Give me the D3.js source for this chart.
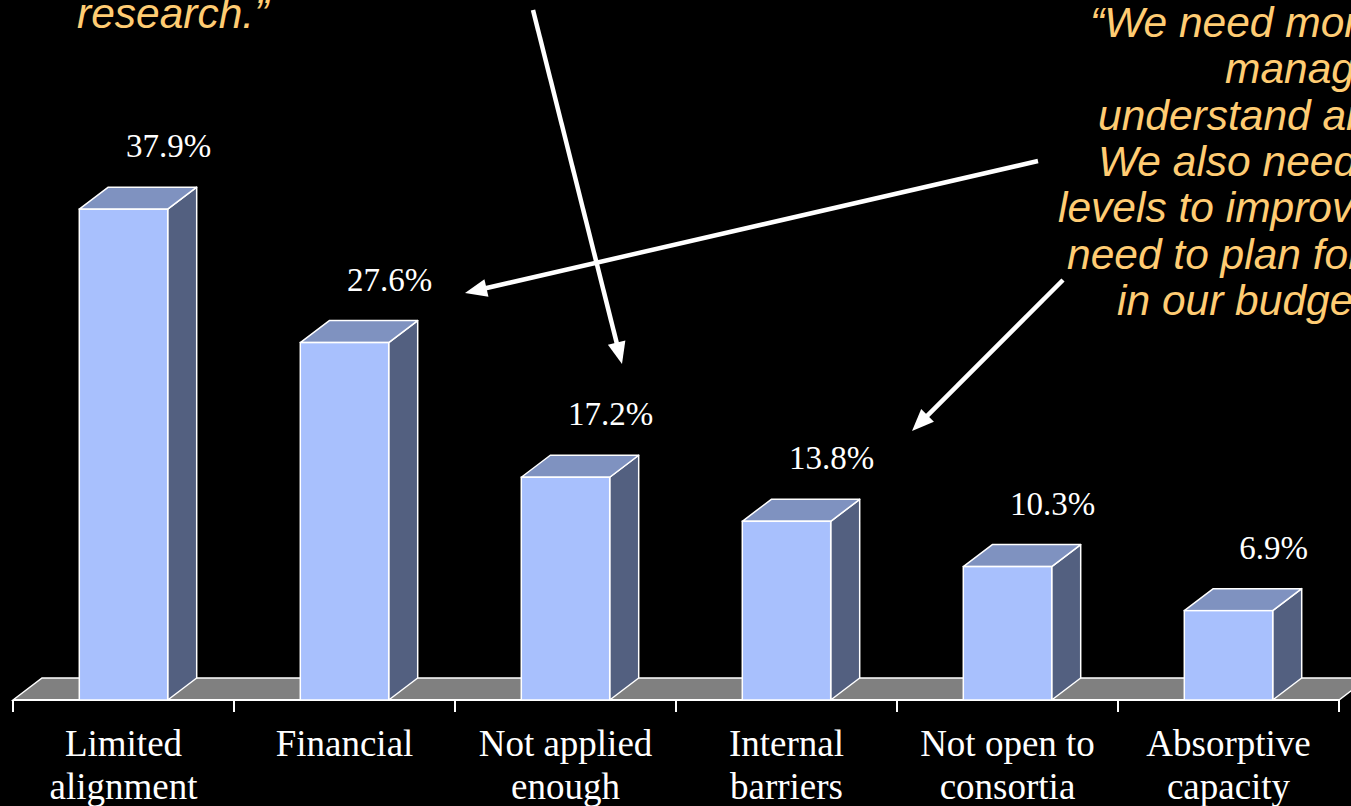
<!DOCTYPE html>
<meta charset="utf-8">
<style>
    body { margin: 0; background: #000; }
    svg { display: block; background: #000; }
    .value { font-family: "Liberation Serif", "Times New Roman", serif; font-size: 33px; fill: #fff; text-anchor: middle; }
    .category { font-family: "Liberation Serif", "Times New Roman", serif; font-size: 37px; fill: #fff; text-anchor: middle; }
    .quote { font-family: "Liberation Sans", Arial, sans-serif; font-style: italic; font-size: 42.5px; fill: #ffcc73; }
</style>
<svg width="1351" height="806"></svg>
<script src="https://d3js.org/d3.v7.min.js"></script>
<script>
    // survey results
    var categories = ["Limited alignment", "Financial", "Not applied enough", "Internal barriers", "Not open to consortia", "Absorptive capacity"];
    var categoryLines = [["Limited", "alignment"], ["Financial"], ["Not applied", "enough"], ["Internal", "barriers"], ["Not open to", "consortia"], ["Absorptive", "capacity"]];
    var shares = [37.9, 27.6, 17.2, 13.8, 10.3, 6.9];

    // quotes around the chart (they run off the slide edge)
    var quoteRight = ["\u201cWe need more", "management", "understand and", "We also need", "levels to improve", "need to plan for", "in our budget."];
    var quoteLeft = ["research.\u201d"];

    var svg = d3.select("svg"),
        width = +svg.attr("width"),
        height = +svg.attr("height");

    var floorY = 700,
        depthX = 29,
        depthY = -22;

    var x = d3.scaleBand()
        .domain(categories)
        .range([13, 1339]);

    var y = d3.scaleLinear()
        .domain([0, 40])
        .range([floorY, 182]);

    var barW = x.bandwidth() * 0.4;
    function barLeft(c) { return x(c) + (x.bandwidth() - barW) / 2; }

    // floor
    var fx0 = x.range()[0], fx1 = x.range()[1];
    svg.append("path")
        .attr("d", "M" + fx0 + "," + floorY + "L" + (fx0 + depthX) + "," + (floorY + depthY) +
            "L" + (fx1 + depthX) + "," + (floorY + depthY) + "L" + fx1 + "," + floorY + "Z")
        .attr("fill", "#808080")
        .attr("stroke", "#fff")
        .attr("stroke-width", 1.5);

    // axis line + ticks at band edges
    var tickXs = categories.map(function (c) { return x(c); }).concat([fx1]);
    svg.append("line")
        .attr("x1", fx0).attr("x2", fx1)
        .attr("y1", floorY).attr("y2", floorY)
        .attr("stroke", "#fff").attr("stroke-width", 2);
    svg.selectAll(".tick")
        .data(tickXs).enter()
        .append("line")
        .attr("x1", function (d) { return d; })
        .attr("x2", function (d) { return d; })
        .attr("y1", floorY)
        .attr("y2", floorY + 12)
        .attr("stroke", "#fff").attr("stroke-width", 2);

    // 3d bars
    var bars = svg.selectAll(".bar")
        .data(categories)
        .enter().append("g")
        .attr("class", "bar");

    bars.append("path") // side
        .attr("d", function (c, i) {
            var x1 = barLeft(c) + barW, yt = y(shares[i]);
            return "M" + x1 + "," + yt + "L" + (x1 + depthX) + "," + (yt + depthY) +
                "L" + (x1 + depthX) + "," + (floorY + depthY) + "L" + x1 + "," + floorY + "Z";
        })
        .attr("fill", "#536080")
        .attr("stroke", "#fff").attr("stroke-width", 1.5).attr("stroke-linejoin", "round");

    bars.append("path") // top
        .attr("d", function (c, i) {
            var x0 = barLeft(c), x1 = x0 + barW, yt = y(shares[i]);
            return "M" + x0 + "," + yt + "L" + (x0 + depthX) + "," + (yt + depthY) +
                "L" + (x1 + depthX) + "," + (yt + depthY) + "L" + x1 + "," + yt + "Z";
        })
        .attr("fill", "#7f92c0")
        .attr("stroke", "#fff").attr("stroke-width", 1.5).attr("stroke-linejoin", "round");

    bars.append("rect") // front
        .attr("x", function (c) { return barLeft(c); })
        .attr("y", function (c, i) { return y(shares[i]); })
        .attr("width", barW)
        .attr("height", function (c, i) { return floorY - y(shares[i]); })
        .attr("fill", "#a8c0fd")
        .attr("stroke", "#fff").attr("stroke-width", 1.5);

    // value labels
    svg.selectAll(".value")
        .data(shares).enter()
        .append("text")
        .attr("class", "value")
        .attr("x", function (d, i) { return x(categories[i]) + x.bandwidth() / 2 + 45; })
        .attr("y", function (d) { return y(d) - 52; })
        .text(function (d) { return d.toFixed(1) + "%"; });

    // category labels
    var cat = svg.selectAll(".category")
        .data(categories).enter()
        .append("text")
        .attr("class", "category")
        .attr("x", function (c) { return x(c) + x.bandwidth() / 2; })
        .attr("y", 756);
    cat.selectAll("tspan")
        .data(function (c, i) { return categoryLines[i]; })
        .enter().append("tspan")
        .attr("x", function () { return d3.select(this.parentNode).attr("x"); })
        .attr("dy", function (d, i) { return i ? 43 : 0; })
        .text(function (d) { return d; });

    // quotes
    var rightStarts = [1090, 1225, 1098, 1098, 1058, 1067, 1117];
    svg.selectAll(".qr")
        .data(quoteRight).enter()
        .append("text")
        .attr("class", "quote")
        .attr("x", function (d, i) { return rightStarts[i]; })
        .attr("y", function (d, i) { return 37 + i * 46.3; })
        .text(function (d) { return d; });

    svg.append("text")
        .attr("class", "quote")
        .attr("x", 77)
        .attr("y", 28)
        .text(quoteLeft[0]);

    // arrows
    var arrows = [
        [[533, 10], [622, 364]],
        [[1038, 161], [465, 293]],
        [[1063, 280], [912, 431]]
    ];
    function arrow(a) {
        var s = a[0], t = a[1];
        var dx = t[0] - s[0], dy = t[1] - s[1], len = Math.hypot(dx, dy);
        var ux = dx / len, uy = dy / len, hl = 22, hw = 9;
        var bx = t[0] - ux * hl, by = t[1] - uy * hl;
        svg.append("line")
            .attr("x1", s[0]).attr("y1", s[1])
            .attr("x2", bx + ux * 2).attr("y2", by + uy * 2)
            .attr("stroke", "#fff").attr("stroke-width", 4.5);
        svg.append("path")
            .attr("d", "M" + t[0] + "," + t[1] +
                "L" + (bx - uy * hw) + "," + (by + ux * hw) +
                "L" + (bx + uy * hw) + "," + (by - ux * hw) + "Z")
            .attr("fill", "#fff");
    }
    arrows.forEach(arrow);
</script>
